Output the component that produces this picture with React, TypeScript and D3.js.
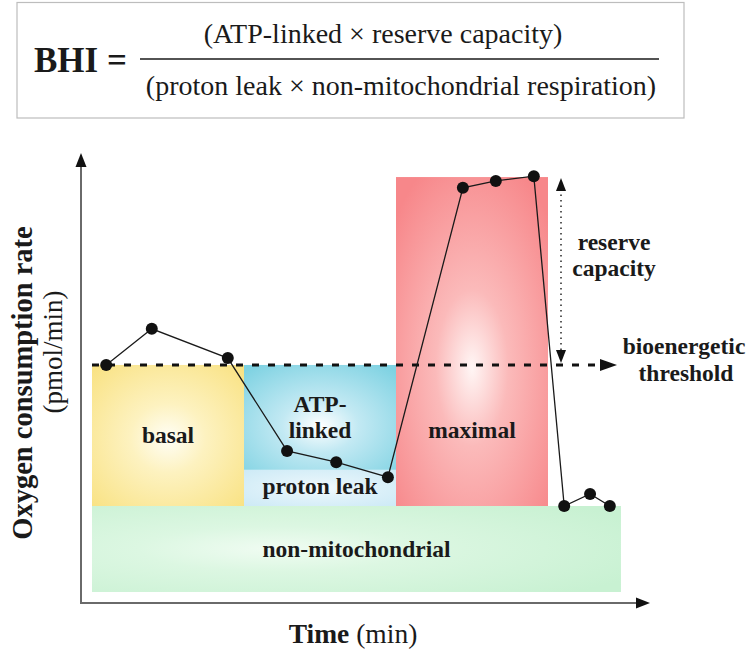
import React from 'react';
import * as d3 from 'd3';

// ---- data ----
const timePoints = [2.8, 11.8, 26.8, 38.5, 48.2, 58.4, 73.2, 79.7, 87.2, 93.2, 98.3, 102.2];
const ocrValues = [52.8, 61.2, 54.4, 32.8, 30.2, 26.7, 94.0, 95.6, 96.7, 20.0, 22.8, 20.0];

const regionNames = ['basal', 'ATP-linked', 'proton leak', 'maximal', 'non-mitochondrial'];
const regionStart = [0, 30, 30, 60, 0];
const regionEnd = [30, 60, 60, 90, 104.4];
const regionLow = [20, 28.4, 20, 20, 0];
const regionHigh = [52.8, 52.8, 28.4, 96.5, 20];

const thresholdLevel = 52.8;
const maximalLevel = 96.5;

const W = 749;
const H = 653;
const FONT = 'Liberation Serif';

const regionColors = [
  { id: 'gYellow', edge: '#f9e283', mid: '#fdf2c0', center: '#fffef6', cx: '50%', cy: '52%', r: '70%' },
  { id: 'gBlue', edge: '#7ed2e2', mid: '#c2e9f3', center: '#ffffff', cx: '50%', cy: '58%', r: '72%' },
  { id: 'gLeak', edge: '#cdeaf6', mid: '#e2f3fa', center: '#f4fbfe', cx: '50%', cy: '50%', r: '70%' },
  { id: 'gRed', edge: '#f7878a', mid: '#fbbaba', center: '#fff6f5', cx: '50%', cy: '58%', r: '68%' },
  { id: 'gGreen', edge: '#c8f1d2', mid: '#dcf7e2', center: '#f0fcf2', cx: '35%', cy: '50%', r: '75%' },
];

export default function App() {
  const x = d3.scaleLinear().domain([0, 30]).range([92, 244]);
  const y = d3.scaleLinear().domain([0, 100]).range([592, 162]);

  const axisX = 81;
  const axisY = 603;
  const axisTop = 153;
  const axisRight = 650;

  const pts = timePoints.map((t, i) => [x(t), y(ocrValues[i])] as [number, number]);
  const line = d3.line<[number, number]>()(pts) || '';

  const thrY = y(thresholdLevel);
  const maxY = y(maximalLevel);
  const dashEnd = 617;
  const resX = x(90) + 13;

  const bold = { fontFamily: FONT, fontWeight: 'bold', fill: '#1a1a1a' } as const;
  const labelStyle = { ...bold, fontSize: 23.5 } as const;

  return (
    <svg width={W} height={H} style={{ position: 'absolute', left: 0, top: 0, background: '#fff' }}>
      <defs>
        {regionColors.map((c) => (
          <radialGradient key={c.id} id={c.id} cx={c.cx} cy={c.cy} r={c.r}>
            <stop offset="0%" stopColor={c.center} />
            <stop offset="35%" stopColor={c.mid} />
            <stop offset="100%" stopColor={c.edge} />
          </radialGradient>
        ))}
      </defs>

      {/* formula box */}
      <rect x={17} y={2.5} width={667} height={115.5} fill="#fff" stroke="#bdbdbd" strokeWidth={1.2} />
      <text x={34} y={72} style={{ ...bold, fontSize: 35 }}>BHI =</text>
      <text x={383} y={43} textAnchor="middle" style={{ fontFamily: FONT, fontSize: 28, fill: '#1a1a1a' }}>
        (ATP-linked × reserve capacity)
      </text>
      <line x1={140} x2={659} y1={59} y2={59} stroke="#1a1a1a" strokeWidth={1.6} />
      <text x={401} y={95} textAnchor="middle" style={{ fontFamily: FONT, fontSize: 28, fill: '#1a1a1a' }}>
        (proton leak × non-mitochondrial respiration)
      </text>

      {/* regions */}
      {regionNames.map((n, i) => (
        <rect
          key={n}
          x={x(regionStart[i])}
          y={y(regionHigh[i])}
          width={x(regionEnd[i]) - x(regionStart[i])}
          height={y(regionLow[i]) - y(regionHigh[i])}
          fill={`url(#${regionColors[i].id})`}
        />
      ))}

      {/* axes */}
      <line x1={axisX} x2={axisX} y1={axisY} y2={axisTop + 10} stroke="#6a6a6a" strokeWidth={2} />
      <path d={`M${axisX},${axisTop} L${axisX - 5.5},${axisTop + 14} L${axisX + 5.5},${axisTop + 14} Z`} fill="#111" />
      <line x1={axisX - 1} x2={axisRight - 10} y1={axisY} y2={axisY} stroke="#6a6a6a" strokeWidth={2} />
      <path d={`M${axisRight},${axisY} L${axisRight - 14},${axisY - 5.5} L${axisRight - 14},${axisY + 5.5} Z`} fill="#111" />

      {/* threshold dashed line */}
      <line x1={x(0)} x2={dashEnd - 12} y1={thrY} y2={thrY} stroke="#111" strokeWidth={3} strokeDasharray="7,9" />
      <path d={`M${dashEnd},${thrY} L${dashEnd - 17},${thrY - 6} L${dashEnd - 17},${thrY + 6} Z`} fill="#111" />

      {/* reserve capacity arrow */}
      <line x1={resX} x2={resX} y1={maxY + 12} y2={thrY - 12} stroke="#333" strokeWidth={1.6} strokeDasharray="1.5,4" />
      <path d={`M${resX},${maxY + 1} L${resX - 5},${maxY + 14} L${resX + 5},${maxY + 14} Z`} fill="#111" />
      <path d={`M${resX},${thrY - 2} L${resX - 5},${thrY - 15} L${resX + 5},${thrY - 15} Z`} fill="#111" />

      {/* data line and points */}
      <path d={line} fill="none" stroke="#1a1a1a" strokeWidth={1.3} />
      {pts.map((p, i) => (
        <circle key={i} cx={p[0]} cy={p[1]} r={6} fill="#111" />
      ))}

      {/* region labels */}
      <text x={x(15)} y={443} textAnchor="middle" style={labelStyle}>basal</text>
      <text x={x(45)} y={412} textAnchor="middle" style={labelStyle}>ATP-</text>
      <text x={x(45)} y={438} textAnchor="middle" style={labelStyle}>linked</text>
      <text x={x(45)} y={494} textAnchor="middle" style={labelStyle}>proton leak</text>
      <text x={x(75)} y={438} textAnchor="middle" style={labelStyle}>maximal</text>
      <text x={x(52.2)} y={557} textAnchor="middle" style={labelStyle}>non-mitochondrial</text>

      <text x={614} y={250} textAnchor="middle" style={labelStyle}>reserve</text>
      <text x={614} y={276} textAnchor="middle" style={labelStyle}>capacity</text>
      <text x={684} y={354} textAnchor="middle" style={labelStyle}>bioenergetic</text>
      <text x={686} y={381} textAnchor="middle" style={labelStyle}>threshold</text>

      {/* axis titles */}
      <text x={353} y={643} textAnchor="middle" style={{ fontFamily: FONT, fontSize: 27.5, fill: '#1a1a1a' }}>
        <tspan fontWeight="bold">Time</tspan> (min)
      </text>
      <text
        transform={`translate(32,383) rotate(-90)`}
        textAnchor="middle"
        style={{ ...bold, fontSize: 28.5 }}
      >
        Oxygen consumption rate
      </text>
      <text
        transform={`translate(62,352) rotate(-90)`}
        textAnchor="middle"
        style={{ fontFamily: FONT, fontSize: 27, fill: '#1a1a1a' }}
      >
        (pmol/min)
      </text>
    </svg>
  );
}
